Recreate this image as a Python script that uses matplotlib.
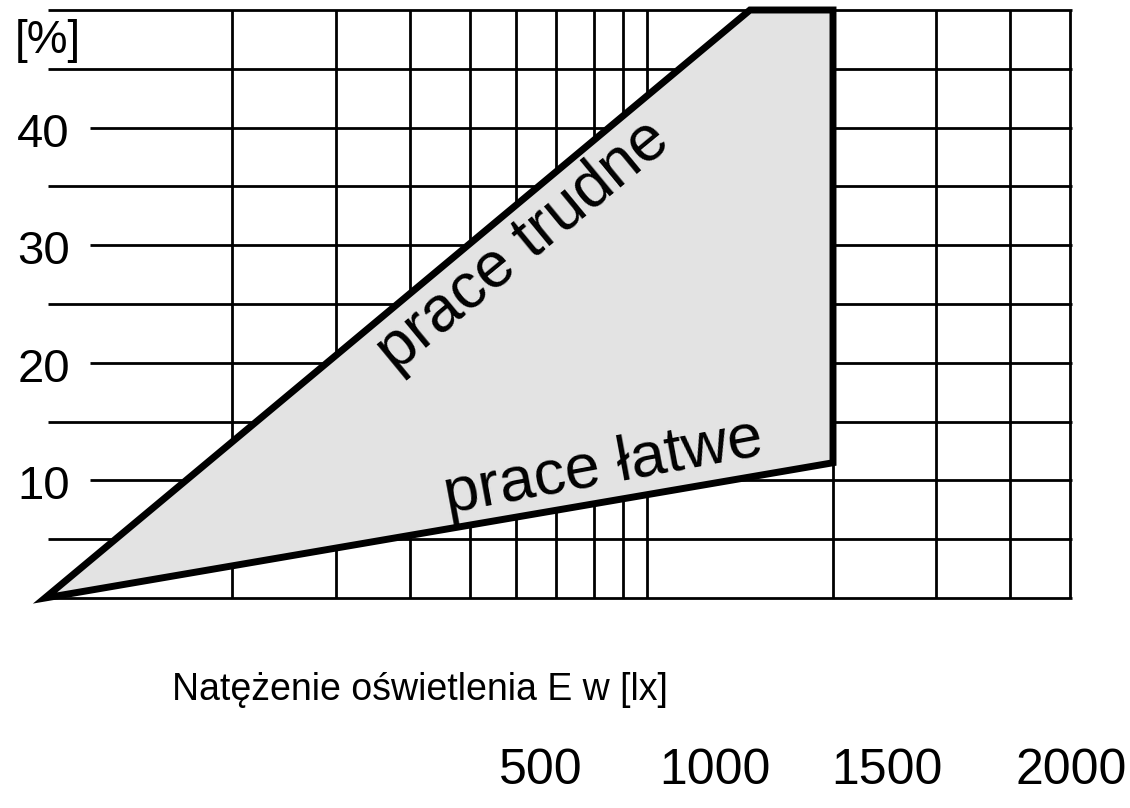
import numpy as np
import matplotlib
matplotlib.use("Agg")
import matplotlib.pyplot as plt
from matplotlib import font_manager
from matplotlib.patches import Polygon

plt.rcParams['font.family'] = ['Liberation Sans', 'DejaVu Sans']

# y axis: percent
y_major = [10, 20, 30, 40]
y_minor = [5, 15, 25, 35, 45, 50]
y_top = 50

# x axis: position along the (hand drawn, log-like) illuminance grid
grid_x = [232, 336, 410, 470, 516, 556, 594, 623, 647, 833, 936, 1010, 1070]
x_right = 1072

# area between the two curves (x position, percent)
hard_x = [45, 750, 833]
hard_y = [0, 50, 50]
easy_x = [45, 833]
easy_y = [0, 11.5]

# bottom labels (lux)
lux_labels = ['500', '1000', '1500', '2000']
lux_label_x = [541, 715, 887, 1071]

# narrow font for the bottom numbers, if available
names = {f.name for f in font_manager.fontManager.ttflist}
if 'Liberation Sans Narrow' in names:
    narrow = dict(family=['Liberation Sans Narrow', 'DejaVu Sans'], fontsize=41)
else:
    narrow = dict(fontsize=36)

fig = plt.figure(figsize=(11.3, 8.08), dpi=100)
ax = fig.add_axes([0, 0, 1, 1])
ax.set_xlim(0, 1130)
ax.set_ylim((598 - 808) / 11.76, 598 / 11.76)
ax.axis('off')

# grid
for y in y_minor:
    ax.plot([48, x_right], [y, y], color='black', lw=2.0, solid_capstyle='butt')
for y in y_major:
    ax.plot([90, x_right], [y, y], color='black', lw=2.0, solid_capstyle='butt')
for x in grid_x:
    ax.plot([x, x], [0, y_top], color='black', lw=2.0, solid_capstyle='butt')
ax.plot([48, x_right], [0, 0], color='black', lw=2.0, solid_capstyle='butt')

# shaded region
pts = list(zip(hard_x, hard_y)) + list(zip(easy_x[::-1], easy_y[::-1]))
poly = Polygon(pts, closed=True, facecolor='#e3e3e3', edgecolor='black',
               lw=5, joinstyle='miter', zorder=3)
ax.add_patch(poly)

# labels
ax.text(534, (598 - 259) / 11.76, 'prace trudne', fontsize=46, rotation=39.5,
        rotation_mode='anchor', ha='center', va='baseline', zorder=4)
ax.text(606, (598 - 484) / 11.76, 'prace łatwe', fontsize=45.5, rotation=10.5,
        rotation_mode='anchor', ha='center', va='baseline', zorder=4)

ax.text(15, 47.4, '[%]', fontsize=33, ha='left', va='center')
for y in y_major:
    ax.text(70, y - 0.6, str(y), fontsize=34, ha='right', va='center')

ax.text(172, -7.8, 'Natężenie oświetlenia E w [lx]', fontsize=27,
        ha='left', va='center')
for lab, x in zip(lux_labels, lux_label_x):
    ax.text(x, -14.7, lab, ha='center', va='center', **narrow)

fig.savefig('out.png', dpi=100)
